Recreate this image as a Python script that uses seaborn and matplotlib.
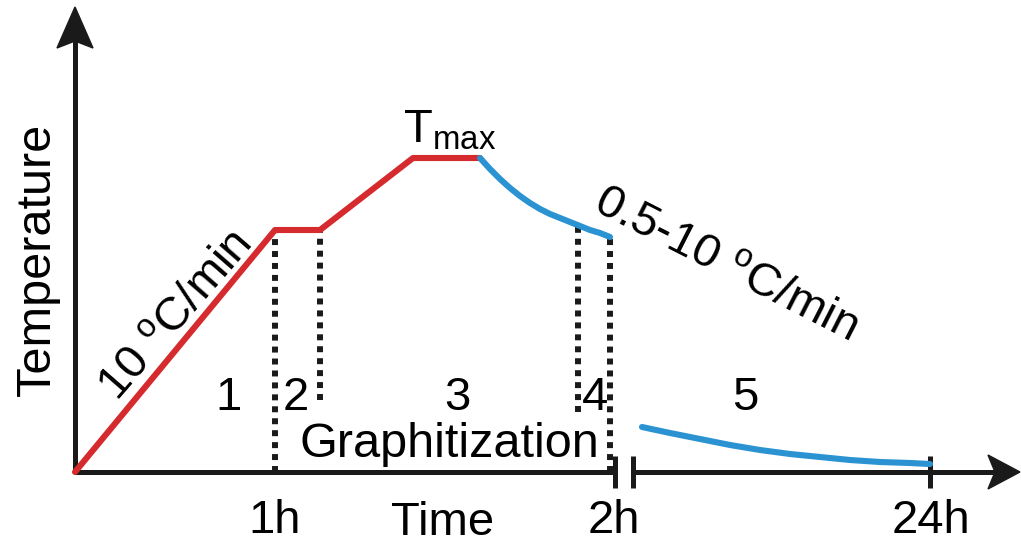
import numpy as np
import pandas as pd
import seaborn as sns
import matplotlib.pyplot as plt
from matplotlib.patches import Polygon

sns.set_theme(style="white")
plt.rcParams["font.family"] = ["Liberation Sans", "DejaVu Sans"]
plt.rcParams["mathtext.fontset"] = "custom"
plt.rcParams["mathtext.rm"] = "Liberation Sans"
plt.rcParams["mathtext.it"] = "Liberation Sans:italic"
plt.rcParams["text.color"] = "black"

# Heat-treatment schedule in drawing units (time along x, temperature along y)
heat_time = [0, 200, 245, 338, 405]
heat_temp = [0, 242, 242, 314, 314]

cool_time = [405, 415, 425, 435, 445, 455, 465, 475, 485, 495, 505, 515, 525, 535]
cool_temp = [314, 303, 293, 284, 276, 269, 263, 258, 254, 250, 246, 242, 239, 235]

slow_time = [567, 595, 625, 655, 685, 715, 745, 775, 805, 835, 855]
slow_temp = [45, 39, 33, 27, 22, 18, 15, 12, 10, 9, 8]

# Stage boundaries (dotted)
stage_time = [200, 245, 503, 535]
stage_top = [242, 242, 246, 235]
stage_bottom = [0, 72, 60, 0]

stage_labels = ["1", "2", "3", "4", "5"]
stage_label_time = [153, 221, 382, 520, 670]

hour_labels = ["1h", "2h", "24h"]
hour_time = [200, 539, 856]

break_time = [540, 558]
end_tick_time = 855

RED = "#d62b2e"
BLUE = "#2b93d1"
FS = 34

fig = plt.figure(figsize=(10.21, 5.47), dpi=100)
ax = fig.add_axes([0, 0, 1, 1])

heat = pd.DataFrame({"time": heat_time, "temp": heat_temp})
cool = pd.DataFrame({"time": cool_time, "temp": cool_temp})
slow = pd.DataFrame({"time": slow_time, "temp": slow_temp})

# Axes with arrows
y_tip, y_base = 465, 424
x_tip, x_base = 945, 913
ax.plot([0, 0], [0, y_base + 8], color="k", lw=3.6, solid_capstyle="butt", zorder=2)
ax.plot([0, break_time[0] + 2], [0, 0], color="k", lw=3.6, solid_capstyle="butt", zorder=2)
ax.plot([break_time[1] - 1, x_base + 8], [0, 0], color="k", lw=3.6, solid_capstyle="butt", zorder=2)
ax.add_patch(Polygon([(0, y_tip), (-18, y_base), (0, y_base + 7), (18, y_base)],
                     closed=True, color="k", zorder=3))
ax.add_patch(Polygon([(x_tip, 0), (x_base, 17), (x_base + 7, 0), (x_base, -17)],
                     closed=True, color="k", zorder=3))

# Axis break and end tick
ax.vlines(break_time + [end_tick_time], -16, 16, colors="k", lw=3.6, zorder=3)

# Stage boundaries
ax.vlines(stage_time, stage_bottom, stage_top, colors="k", lw=4.3,
          linestyles=[(0, (1, 1))], zorder=2)

# Temperature curves
sns.lineplot(data=heat, x="time", y="temp", sort=False, color=RED, lw=4.4, ax=ax, zorder=4)
sns.lineplot(data=cool, x="time", y="temp", sort=False, color=BLUE, lw=4.4, ax=ax, zorder=4)
sns.lineplot(data=slow, x="time", y="temp", sort=False, color=BLUE, lw=4.4, ax=ax, zorder=4)
ax.set_xlim(-75, 946)
ax.set_ylim(-75, 472)
ax.axis("off")

# Labels
ax.text(-38, 213, "Temperature", rotation=90, ha="center", va="center", fontsize=35)
ax.text(368, -63, "Time", ha="center", va="baseline", fontsize=34)
for lab, t in zip(hour_labels, hour_time):
    ax.text(t, -61, lab, ha="center", va="baseline", fontsize=FS)
for lab, t in zip(stage_labels, stage_label_time):
    ax.text(t, 62, lab, ha="center", va="baseline", fontsize=FS)
ax.text(374, 15, "Graphitization", ha="center", va="baseline", fontsize=35)
ax.text(328, 329, r"T$_{\mathregular{max}}$", ha="left", va="baseline", fontsize=FS)
ax.text(110, 148, r"10 $^{\mathregular{o}}$C/min", rotation=49, rotation_mode="anchor",
        ha="center", va="baseline", fontsize=FS)
ax.text(645, 197, r"0.5-10 $^{\mathregular{o}}$C/min", rotation=-27, rotation_mode="anchor",
        ha="center", va="baseline", fontsize=FS)

fig.savefig("out.png", dpi=100, facecolor="white")
